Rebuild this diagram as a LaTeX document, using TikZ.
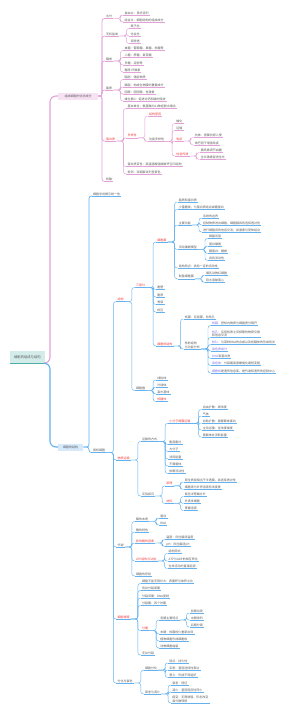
\documentclass[tikz,border=0pt]{standalone}
\usepackage{fontspec}
\setmainfont{Noto Sans CJK SC}
\definecolor{pinkln}{HTML}{E2A2D7}
\definecolor{blueln}{HTML}{63B1EF}
\definecolor{txt}{HTML}{5A5A5A}
\definecolor{hot}{HTML}{F03A3A}
\definecolor{lav}{HTML}{7A6DEA}
\definecolor{rootfill}{HTML}{D3ECEA}
\definecolor{rootedge}{HTML}{4DAFA7}
\definecolor{pinkfill}{HTML}{F7E2F3}
\definecolor{bluefill}{HTML}{D6E9FB}

\tikzset{
  lbl/.style={anchor=south west, inner xsep=1pt, inner ysep=0.45pt, font=\fontsize{3}{3.6}\selectfont, text=txt, align=left},
  pk/.style={lbl, append after command={(\tikzlastnode.south west) edge[draw=pinkln, line width=0.45pt] (\tikzlastnode.south east)}},
  bl/.style={lbl, append after command={(\tikzlastnode.south west) edge[draw=blueln, line width=0.45pt] (\tikzlastnode.south east)}},
  hl/.style={text=hot},
  pkl/.style={draw=pinkln, line width=0.45pt, rounded corners=2.5pt},
  bll/.style={draw=blueln, line width=0.45pt, rounded corners=2.5pt},
  trunkp/.style={draw=pinkln, line width=1.1pt, rounded corners=6pt},
  trunkb/.style={draw=blueln, line width=1.1pt, rounded corners=6pt},
  rootbox/.style={anchor=west, fill=rootfill, inner xsep=4pt, minimum height=12pt, font=\fontsize{3.3}{4}\selectfont, text=txt,
    append after command={(\tikzlastnode.south west) edge[draw=rootedge, line width=0.7pt] (\tikzlastnode.south east)}},
  pinkbox/.style={anchor=west, fill=pinkfill, inner xsep=6.5pt, inner ysep=1pt, minimum height=7pt, font=\fontsize{3}{3.6}\selectfont, text=txt},
  bluebox/.style={anchor=west, fill=bluefill, inner xsep=5pt, inner ysep=1pt, minimum height=7pt, font=\fontsize{3}{3.6}\selectfont, text=txt},
}

\begin{document}
\begin{tikzpicture}[x=1pt, y=-1pt]
\useasboundingbox (0,0) rectangle (300,713);

\node[rootbox] (root) at (10,357) {细胞的组成与结构};

% pink branch
\node[pinkbox] (chem) at (58,96) {组成细胞的化学成分};
\node[pk] (water) at (105,18.5) {水分};
\node[pk] (w1) at ([xshift=10pt]water.south east |- 0,15) {自由水：良好溶剂};
\node[pk] (w2) at ([xshift=10pt]water.south east |- 0,22) {结合水：细胞结构的组成成分};
\node[pk] (salt) at (105,36) {无机盐类};
\node[pk] (s1) at ([xshift=10pt]salt.south east |- 0,28.5) {离子态};
\node[pk] (s2) at ([xshift=10pt]salt.south east |- 0,36) {化合态};
\node[pk] (s3) at ([xshift=10pt]salt.south east |- 0,43.5) {调渗透};
\node[pk] (sugar) at (105,61) {糖类};
\node[pk] (g1) at ([xshift=10pt]sugar.south east |- 0,50.5) {单糖：葡萄糖、果糖、核糖等};
\node[pk] (g2) at ([xshift=10pt]sugar.south east |- 0,57.5) {二糖：蔗糖、麦芽糖};
\node[pk] (g3) at ([xshift=10pt]sugar.south east |- 0,65) {多糖：淀粉等};
\node[pk] (g4) at ([xshift=10pt]sugar.south east |- 0,72) {糖原 纤维素};
\node[pk] (lipid) at (105,90) {脂质};
\node[pk] (l1) at ([xshift=10pt]lipid.south east |- 0,79.5) {脂肪：储能物质};
\node[pk] (l2) at ([xshift=10pt]lipid.south east |- 0,87) {磷脂：构成生物膜的重要成分};
\node[pk] (l3) at ([xshift=10pt]lipid.south east |- 0,94) {固醇：胆固醇、性激素};
\node[pk] (l4) at ([xshift=10pt]lipid.south east |- 0,101) {维生素D：促进对钙和磷的吸收};
\node[pk, hl] (prot) at (105,141) {蛋白质};
\node[pk] (unit) at ([xshift=10pt]prot.south east |- 0,108.5) {基本单位：氨基酸约21种经脱水缩合};
\node[pk, hl] (divers) at ([xshift=10pt]prot.south east |- 0,137.8) {多样性};
\node[pk, hl] (cause) at ([xshift=10pt]divers.south east |- 0,116) {结构原因};
\node[pk] (func) at ([xshift=10pt]divers.south east |- 0,141.5) {功能多样性};
\node[pk] (f1) at ([xshift=10pt]func.south east |- 0,123.5) {催化};
\node[pk] (f2) at ([xshift=10pt]func.south east |- 0,130.5) {运输};
\node[pk, hl] (immu) at ([xshift=10pt]func.south east |- 0,141) {免疫};
\node[pk] (i1) at ([xshift=10pt]immu.south east |- 0,137.5) {抗体：抵御抗原入侵};
\node[pk] (i2) at ([xshift=10pt]immu.south east |- 0,145) {淋巴因子增强免疫};
\node[pk, hl] (signal) at ([xshift=10pt]func.south east |- 0,156) {信息传递};
\node[pk] (n1) at ([xshift=10pt]signal.south east |- 0,152.5) {胰岛素调节血糖};
\node[pk] (n2) at ([xshift=10pt]signal.south east |- 0,159.5) {生长激素促进生长};
\node[pk] (denat) at ([xshift=10pt]prot.south east |- 0,166.5) {蛋白质变性：高温强酸强碱破坏空间结构};
\node[pk] (detect) at ([xshift=10pt]prot.south east |- 0,174) {检测：双缩脲试剂呈紫色};
\node[pk] (nucl) at (105,181.5) {核酸};

\draw[trunkp] (root.south east) -| ([xshift=-8pt]chem.west) -- (chem.west);
\foreach \c in {water,salt,sugar,lipid,prot,nucl}
  \draw[pkl, line width=0.7pt] (chem.east) -| ([xshift=-3pt]\c.south west) -- (\c.south west);
\foreach \c in {w1,w2} \draw[pkl] (water.south east) -| ([xshift=-3pt]\c.south west) -- (\c.south west);
\foreach \c in {s1,s2,s3} \draw[pkl] (salt.south east) -| ([xshift=-3pt]\c.south west) -- (\c.south west);
\foreach \c in {g1,g2,g3,g4} \draw[pkl] (sugar.south east) -| ([xshift=-3pt]\c.south west) -- (\c.south west);
\foreach \c in {l1,l2,l3,l4} \draw[pkl] (lipid.south east) -| ([xshift=-3pt]\c.south west) -- (\c.south west);
\foreach \c in {unit,divers,denat,detect} \draw[pkl] (prot.south east) -| ([xshift=-3pt]\c.south west) -- (\c.south west);
\foreach \c in {cause,func} \draw[pkl] (divers.south east) -| ([xshift=-3pt]\c.south west) -- (\c.south west);
\foreach \c in {f1,f2,immu,signal} \draw[pkl] (func.south east) -| ([xshift=-3pt]\c.south west) -- (\c.south west);
\foreach \c in {i1,i2} \draw[pkl] (immu.south east) -| ([xshift=-3pt]\c.south west) -- (\c.south west);
\foreach \c in {n1,n2} \draw[pkl] (signal.south east) -| ([xshift=-3pt]\c.south west) -- (\c.south west);

% blue branch
\node[bluebox] (cell) at (58,447) {细胞的结构};
\node[bl] (theory) at (92,196) {细胞学说揭示统一性};
\node[bl] (euk) at (92,452.5) {真核细胞};

\node[bl, hl] (struct) at ([xshift=10pt]euk.south east |- 0,301.7) {结构};
\node[bl, hl] (parts) at ([xshift=10pt]struct.south east |- 0,287.5) {三部分};
\node[bl, hl] (memb) at ([xshift=10pt]parts.south east |- 0,242) {细胞膜};
\node[bl] (mb1) at ([xshift=10pt]memb.south east |- 0,202) {脂质和蛋白质};
\node[bl] (mb2) at ([xshift=10pt]memb.south east |- 0,209.5) {少量糖类，与蛋白质结合成糖蛋白};
\node[bl] (mfun) at ([xshift=10pt]memb.south east |- 0,225) {主要功能};
\node[bl] (mf1) at ([xshift=10pt]mfun.south east |- 0,218) {系统的边界};
\node[bl] (mf2) at ([xshift=10pt]mfun.south east |- 0,225) {控制物质进出细胞，细胞膜具有选择透过性};
\node[bl] (mf3) at ([xshift=10pt]mfun.south east |- 0,232) {进行细胞间的信息交流，如激素与受体结合};
\node[bl] (model) at ([xshift=10pt]memb.south east |- 0,249.5) {流动镶嵌模型};
\node[bl] (md1) at ([xshift=10pt]model.south east |- 0,238.5) {磷脂双层};
\node[bl] (md2) at ([xshift=10pt]model.south east |- 0,246) {蛋白镶嵌};
\node[bl] (md3) at ([xshift=10pt]model.south east |- 0,253.5) {糖蛋白：糖被};
\node[bl] (md4) at ([xshift=10pt]model.south east |- 0,260.5) {具有流动性};
\node[bl] (mb3) at ([xshift=10pt]memb.south east |- 0,268) {结构特点：具有一定的流动性};
\node[bl] (prep) at ([xshift=10pt]memb.south east |- 0,278.8) {制备细胞膜};
\node[bl] (pr1) at ([xshift=10pt]prep.south east |- 0,275) {哺乳动物红细胞};
\node[bl] (pr2) at ([xshift=10pt]prep.south east |- 0,282.5) {吸水涨破离心};
\node[bl] (pt1) at ([xshift=10pt]parts.south east |- 0,289.5) {胞壁};
\node[bl] (pt2) at ([xshift=10pt]parts.south east |- 0,297) {胞质};
\node[bl] (pt3) at ([xshift=10pt]parts.south east |- 0,304.5) {骨架};
\node[bl] (pt4) at ([xshift=10pt]parts.south east |- 0,312) {核区};
\node[bl, hl] (nuc) at ([xshift=10pt]parts.south east |- 0,346) {细胞核结构};
\node[bl] (nu1) at ([xshift=10pt]nuc.south east |- 0,319) {核膜：双层膜，有核孔};
\node[bl] (nucf) at ([xshift=10pt]nuc.south east |- 0,349) {核的结构\\与功能分析};
\node[bl] (k1) at ([xshift=10pt]nucf.south east |- 0,325.5) {\textcolor{lav}{核膜：}把核内物质与细胞质分隔开};
\node[bl] (k2) at ([xshift=10pt]nucf.south east |- 0,337.5) {\textcolor{lav}{核孔：}实现核质之间频繁的物质交换\\和信息交流};
\node[bl] (k3) at ([xshift=10pt]nucf.south east |- 0,344.5) {\textcolor{lav}{核仁：}与某种RNA的合成以及核糖体的形成有关};
\node[bl] (k4) at ([xshift=10pt]nucf.south east |- 0,351) {\textcolor{lav}{染色质成分}};
\node[bl] (k5) at ([xshift=10pt]nucf.south east |- 0,358.5) {\textcolor{lav}{DNA}和蛋白质};
\node[bl] (k6) at ([xshift=10pt]nucf.south east |- 0,365.5) {\textcolor{lav}{染色体：}分裂期高度螺旋化缩短变粗};
\node[bl] (k7) at ([xshift=10pt]nucf.south east |- 0,373) {\textcolor{lav}{细胞核}是遗传信息库，是代谢和遗传的控制中心};
\node[bl] (organ) at ([xshift=10pt]struct.south east |- 0,390.5) {细胞器};
\node[bl] (o1) at ([xshift=10pt]organ.south east |- 0,380) {线粒体};
\node[bl] (o2) at ([xshift=10pt]organ.south east |- 0,387) {叶绿体};
\node[bl] (o3) at ([xshift=10pt]organ.south east |- 0,394) {高尔基体};
\node[bl, hl] (o4) at ([xshift=10pt]organ.south east |- 0,401.5) {核糖体};

\node[bl, hl] (transp) at ([xshift=10pt]euk.south east |- 0,460) {物质运输};
\node[bl] (ways) at ([xshift=10pt]transp.south east |- 0,441.5) {运输的方式};
\node[bl, hl] (small) at ([xshift=10pt]ways.south east |- 0,423.3) {小分子跨膜运输};
\node[bl] (sm1) at ([xshift=10pt]small.south east |- 0,409.5) {自由扩散：顺浓度};
\node[bl] (sm2) at ([xshift=10pt]small.south east |- 0,416) {气体};
\node[bl] (sm3) at ([xshift=10pt]small.south east |- 0,423) {协助扩散：需要载体蛋白};
\node[bl] (sm4) at ([xshift=10pt]small.south east |- 0,430) {主动运输：逆浓度梯度};
\node[bl] (sm5) at ([xshift=10pt]small.south east |- 0,437) {需载体并消耗能量};
\node[bl] (wy1) at ([xshift=10pt]ways.south east |- 0,444.5) {胞吞胞吐};
\node[bl] (wy2) at ([xshift=10pt]ways.south east |- 0,451.5) {大分子};
\node[bl] (wy3) at ([xshift=10pt]ways.south east |- 0,459) {消耗能量};
\node[bl] (wy4) at ([xshift=10pt]ways.south east |- 0,466) {不需载体};
\node[bl] (wy5) at ([xshift=10pt]ways.south east |- 0,473.5) {依赖流动性};
\node[bl] (expt) at ([xshift=10pt]transp.south east |- 0,496) {实验探究};
\node[bl, hl] (princ) at ([xshift=10pt]expt.south east |- 0,485.8) {原理};
\node[bl] (pc1) at ([xshift=10pt]princ.south east |- 0,482) {原生质层相当于半透膜，具选择透过性};
\node[bl] (pc2) at ([xshift=10pt]princ.south east |- 0,489.5) {细胞液与外界溶液有浓度差};
\node[bl, hl] (mat) at ([xshift=10pt]expt.south east |- 0,503.5) {材料};
\node[bl] (mt1) at ([xshift=10pt]mat.south east |- 0,496.5) {紫色洋葱鳞片叶};
\node[bl] (mt2) at ([xshift=10pt]mat.south east |- 0,503.5) {外表皮细胞};
\node[bl] (mt3) at ([xshift=10pt]mat.south east |- 0,510.5) {蔗糖溶液};

\node[bl] (metab) at ([xshift=10pt]euk.south east |- 0,547) {代谢};
\node[bl] (enz) at ([xshift=10pt]metab.south east |- 0,521.5) {酶的本质};
\node[bl] (ez1) at ([xshift=10pt]enz.south east |- 0,518) {蛋白};
\node[bl] (ez2) at ([xshift=10pt]enz.south east |- 0,525) {RNA};
\node[bl] (enzf) at ([xshift=10pt]metab.south east |- 0,532) {酶的特性};
\node[bl, hl] (factor) at ([xshift=10pt]metab.south east |- 0,543) {影响酶的因素};
\node[bl] (fc1) at ([xshift=10pt]factor.south east |- 0,539.5) {温度：存在最适温度};
\node[bl] (fc2) at ([xshift=10pt]factor.south east |- 0,546.5) {pH：存在最适pH};
\node[bl, hl] (atp) at ([xshift=10pt]metab.south east |- 0,561) {ATP结构与功能};
\node[bl] (at1) at ([xshift=10pt]atp.south east |- 0,553.5) {结构简式};
\node[bl] (at2) at ([xshift=10pt]atp.south east |- 0,561) {ATP与ADP的相互转化};
\node[bl] (at3) at ([xshift=10pt]atp.south east |- 0,568.5) {生命活动的直接能源};
\node[bl] (resp) at ([xshift=10pt]metab.south east |- 0,576) {细胞的呼吸};

\node[bl, hl] (prolif) at ([xshift=10pt]euk.south east |- 0,619) {细胞增殖};
\node[bl] (pf1) at ([xshift=10pt]prolif.south east |- 0,583.5) {细胞不能无限长大：表面积与体积之比};
\node[bl] (pf2) at ([xshift=10pt]prolif.south east |- 0,590.5) {有丝分裂周期};
\node[bl] (pf3) at ([xshift=10pt]prolif.south east |- 0,598) {分裂间期：DNA复制};
\node[bl] (pf4) at ([xshift=10pt]prolif.south east |- 0,605.5) {分裂期：四个时期};
\node[bl, hl] (phase) at ([xshift=10pt]prolif.south east |- 0,630.5) {分期};
\node[bl] (stage) at ([xshift=10pt]phase.south east |- 0,620) {各期主要特点};
\node[bl] (sg1) at ([xshift=10pt]stage.south east |- 0,613) {前期出现};
\node[bl] (sg2) at ([xshift=10pt]stage.south east |- 0,620) {中期排列};
\node[bl] (sg3) at ([xshift=10pt]stage.south east |- 0,627) {后期分离};
\node[bl] (ph1) at ([xshift=10pt]phase.south east |- 0,634) {末期：核膜核仁重新出现};
\node[bl] (ph2) at ([xshift=10pt]phase.south east |- 0,641) {植物细胞形成细胞板};
\node[bl] (ph3) at ([xshift=10pt]phase.south east |- 0,648) {动物细胞缢裂};
\node[bl] (pf5) at ([xshift=10pt]prolif.south east |- 0,655) {无丝分裂};

\node[bl] (fate) at ([xshift=10pt]euk.south east |- 0,683) {分化与衰老};
\node[bl] (dif) at ([xshift=10pt]fate.south east |- 0,670.2) {细胞分化};
\node[bl] (df1) at ([xshift=10pt]dif.south east |- 0,663) {特点：持久性};
\node[bl] (df2) at ([xshift=10pt]dif.south east |- 0,670) {实质：基因选择性表达};
\node[bl] (df3) at ([xshift=10pt]dif.south east |- 0,677.5) {意义：形成不同组织};
\node[bl] (aging) at ([xshift=10pt]fate.south east |- 0,694) {衰老与凋亡};
\node[bl] (ag1) at ([xshift=10pt]aging.south east |- 0,685) {衰老：特征};
\node[bl] (ag2) at ([xshift=10pt]aging.south east |- 0,692) {凋亡：基因程序性死亡};
\node[bl] (ag3) at ([xshift=10pt]aging.south east |- 0,703) {癌变：无限增殖、形态改变\\易分散转移};

\draw[trunkb] (root.south east) -| ([xshift=-8pt]cell.west) -- (cell.west);
\foreach \c in {theory,euk}
  \draw[bll, line width=0.7pt] (cell.east) -| ([xshift=-3pt]\c.south west) -- (\c.south west);
\foreach \c in {struct,transp,metab,prolif,fate} \draw[bll] (euk.south east) -| ([xshift=-3pt]\c.south west) -- (\c.south west);
\foreach \c in {parts,organ} \draw[bll] (struct.south east) -| ([xshift=-3pt]\c.south west) -- (\c.south west);
\foreach \c in {memb,pt1,pt2,pt3,pt4,nuc} \draw[bll] (parts.south east) -| ([xshift=-3pt]\c.south west) -- (\c.south west);
\foreach \c in {mb1,mb2,mfun,model,mb3,prep} \draw[bll] (memb.south east) -| ([xshift=-3pt]\c.south west) -- (\c.south west);
\foreach \c in {mf1,mf2,mf3} \draw[bll] (mfun.south east) -| ([xshift=-3pt]\c.south west) -- (\c.south west);
\foreach \c in {md1,md2,md3,md4} \draw[bll] (model.south east) -| ([xshift=-3pt]\c.south west) -- (\c.south west);
\foreach \c in {pr1,pr2} \draw[bll] (prep.south east) -| ([xshift=-3pt]\c.south west) -- (\c.south west);
\foreach \c in {nu1,nucf} \draw[bll] (nuc.south east) -| ([xshift=-3pt]\c.south west) -- (\c.south west);
\foreach \c in {k1,k2,k3,k4,k5,k6,k7} \draw[bll] (nucf.south east) -| ([xshift=-3pt]\c.south west) -- (\c.south west);
\foreach \c in {o1,o2,o3,o4} \draw[bll] (organ.south east) -| ([xshift=-3pt]\c.south west) -- (\c.south west);
\foreach \c in {ways,expt} \draw[bll] (transp.south east) -| ([xshift=-3pt]\c.south west) -- (\c.south west);
\foreach \c in {small,wy1,wy2,wy3,wy4,wy5} \draw[bll] (ways.south east) -| ([xshift=-3pt]\c.south west) -- (\c.south west);
\foreach \c in {sm1,sm2,sm3,sm4,sm5} \draw[bll] (small.south east) -| ([xshift=-3pt]\c.south west) -- (\c.south west);
\foreach \c in {princ,mat} \draw[bll] (expt.south east) -| ([xshift=-3pt]\c.south west) -- (\c.south west);
\foreach \c in {pc1,pc2} \draw[bll] (princ.south east) -| ([xshift=-3pt]\c.south west) -- (\c.south west);
\foreach \c in {mt1,mt2,mt3} \draw[bll] (mat.south east) -| ([xshift=-3pt]\c.south west) -- (\c.south west);
\foreach \c in {enz,enzf,factor,atp,resp} \draw[bll] (metab.south east) -| ([xshift=-3pt]\c.south west) -- (\c.south west);
\foreach \c in {ez1,ez2} \draw[bll] (enz.south east) -| ([xshift=-3pt]\c.south west) -- (\c.south west);
\foreach \c in {fc1,fc2} \draw[bll] (factor.south east) -| ([xshift=-3pt]\c.south west) -- (\c.south west);
\foreach \c in {at1,at2,at3} \draw[bll] (atp.south east) -| ([xshift=-3pt]\c.south west) -- (\c.south west);
\foreach \c in {pf1,pf2,pf3,pf4,phase,pf5} \draw[bll] (prolif.south east) -| ([xshift=-3pt]\c.south west) -- (\c.south west);
\foreach \c in {stage,ph1,ph2,ph3} \draw[bll] (phase.south east) -| ([xshift=-3pt]\c.south west) -- (\c.south west);
\foreach \c in {sg1,sg2,sg3} \draw[bll] (stage.south east) -| ([xshift=-3pt]\c.south west) -- (\c.south west);
\foreach \c in {dif,aging} \draw[bll] (fate.south east) -| ([xshift=-3pt]\c.south west) -- (\c.south west);
\foreach \c in {df1,df2,df3} \draw[bll] (dif.south east) -| ([xshift=-3pt]\c.south west) -- (\c.south west);
\foreach \c in {ag1,ag2,ag3} \draw[bll] (aging.south east) -| ([xshift=-3pt]\c.south west) -- (\c.south west);
\end{tikzpicture}
\end{document}
